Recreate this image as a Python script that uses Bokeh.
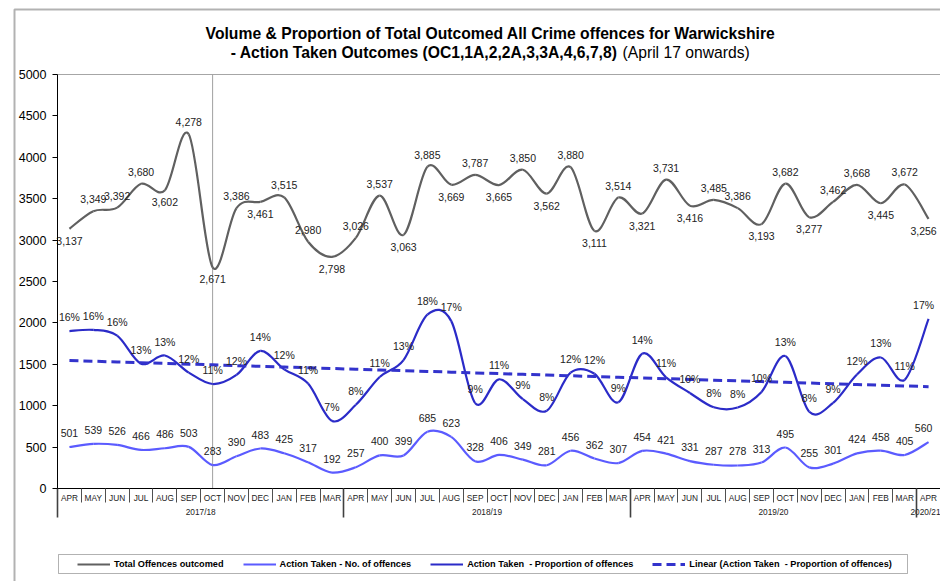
import numpy as np
from bokeh.plotting import figure
from bokeh.models import (Range1d, LinearAxis, FixedTicker, Label, BoxAnnotation,
                          Legend, LegendItem, ColumnDataSource, CustomJSTickFormatter)
from bokeh.core.properties import value
from bokeh.embed import file_html
from bokeh.resources import INLINE

# ---------------- data ----------------
months = ["APR", "MAY", "JUN", "JUL", "AUG", "SEP", "OCT", "NOV", "DEC", "JAN", "FEB", "MAR"] * 3 + ["APR"]
fiscal_years = ["2017/18", "2018/19", "2019/20", "2020/21"]
total_offences = [3137, 3349, 3392, 3680, 3602, 4278, 2671, 3386, 3461, 3515, 2980, 2798,
                  3026, 3537, 3063, 3885, 3669, 3787, 3665, 3850, 3562, 3880, 3111, 3514,
                  3321, 3731, 3416, 3485, 3386, 3193, 3682, 3277, 3462, 3668, 3445, 3672,
                  3256]
action_taken = [501, 539, 526, 466, 486, 503, 283, 390, 483, 425, 317, 192,
                257, 400, 399, 685, 623, 328, 406, 349, 281, 456, 362, 307,
                454, 421, 331, 287, 278, 313, 495, 255, 301, 424, 458, 405,
                560]
action_prop = [0.1597, 0.1609, 0.1551, 0.1266, 0.1349, 0.1176, 0.1060, 0.1152, 0.1396, 0.1209, 0.1064, 0.0686,
               0.0849, 0.1131, 0.1303, 0.1763, 0.1698, 0.0866, 0.1108, 0.0906, 0.0789, 0.1175, 0.1164, 0.0874,
               0.1367, 0.1128, 0.0969, 0.0824, 0.0821, 0.0980, 0.1344, 0.0778, 0.0869, 0.1156, 0.1329, 0.1103,
               0.1720]
y_ticks = [0, 500, 1000, 1500, 2000, 2500, 3000, 3500, 4000, 4500, 5000]
marker_month = 6  # October 2017 marker line

# label placement for the total series (A = above, B = below)
total_label_pos = ["B", "A", "A", "A", "B", "A", "B", "A", "B", "A", "A", "B",
                   "A", "A", "B", "A", "B", "A", "B", "A", "B", "A", "B", "A",
                   "B", "A", "B", "A", "A", "B", "A", "B", "A", "A", "B", "A",
                   "B"]

FONT = "Liberation Sans"
C_TOTAL = "#606060"
C_NUM = "#5b5bff"
C_PROP = "#2b2bc8"
C_TREND = "#3333cc"

n = len(months)
xc = np.arange(n) + 0.5
last_shift = [0.0] * (n - 1) + [-5.0]

# ---------------- layout (pixel geometry of the canvas) ----------------
W, H = 940, 581
PLOT_L, PLOT_T, PLOT_B = 57, 74, 488
CAT_W = (W - PLOT_L) / n
Y_MAX = y_ticks[-1]
PCT_MAX = 0.42
Y_SC = (PLOT_B - PLOT_T) / Y_MAX


def px2x(px):
    return (px - PLOT_L) / CAT_W


def py2y(py):
    return (PLOT_B - py) / Y_SC


p = figure(width=W, height=H, x_range=Range1d(px2x(0), px2x(W)), y_range=Range1d(py2y(H), py2y(0)),
           output_backend="svg", toolbar_location=None,
           min_border_left=0, min_border_right=0, min_border_top=0, min_border_bottom=0)
p.title.visible = False
p.extra_y_ranges = {"pct": Range1d(py2y(H) / Y_MAX * PCT_MAX, py2y(0) / Y_MAX * PCT_MAX)}
p.xgrid.visible = False
p.ygrid.visible = False
p.outline_line_color = None
p.background_fill_color = "white"
p.border_fill_color = "white"

# y axis
ya = p.yaxis[0]
ya.fixed_location = 0
ya.bounds = (0, Y_MAX)
ya.ticker = FixedTicker(ticks=y_ticks)
ya.major_label_text_font = FONT
ya.major_label_text_font_size = "12.5px"
ya.major_label_text_color = "black"
ya.axis_line_color = "black"
ya.major_tick_out = 5
ya.major_tick_in = 0
ya.major_tick_line_color = "black"
ya.minor_tick_line_color = None
ya.major_label_standoff = 6

# x axis 1: month names
xa = p.xaxis[0]
xa.fixed_location = 0
xa.bounds = (0, n)
xa.ticker = FixedTicker(ticks=list(xc))
xa.formatter = CustomJSTickFormatter(args=dict(labels=months), code="return labels[Math.floor(tick)] || '';")
xa.major_tick_out = 0
xa.major_tick_in = 0
xa.minor_tick_out = 0
xa.minor_tick_in = 0
xa.axis_line_color = "black"
xa.major_label_text_font = FONT
xa.major_label_text_font_size = "8.3px"
xa.major_label_text_color = "#222222"
xa.major_label_standoff = 4

# x axis 2: fiscal years, with month separators reaching up to the axis line
year_pos = [6, 18, 30, 36.5]
xa2 = LinearAxis(ticker=FixedTicker(ticks=year_pos, minor_ticks=list(range(n + 1))),
                 formatter=CustomJSTickFormatter(args=dict(labels=fiscal_years),
                                                 code="return labels[Math.floor(tick / 12)] || '';"))
xa2.fixed_location = py2y(502)
xa2.axis_line_color = None
xa2.major_tick_out = 0
xa2.major_tick_in = 0
xa2.minor_tick_in = 14
xa2.minor_tick_out = 0
xa2.minor_tick_line_color = "#505050"
xa2.major_label_text_font = FONT
xa2.major_label_text_font_size = "8.3px"
xa2.major_label_text_color = "#222222"
xa2.major_label_standoff = 4
p.add_layout(xa2, "below")

# x axis 3: long fiscal-year boundary lines
xa3 = LinearAxis(ticker=FixedTicker(ticks=[], minor_ticks=[0, 12, 24, 36]),
                 formatter=CustomJSTickFormatter(code="return '';"))
xa3.fixed_location = py2y(517)
xa3.axis_line_color = None
xa3.major_tick_out = 0
xa3.major_tick_in = 0
xa3.minor_tick_in = 29
xa3.minor_tick_out = 0
xa3.minor_tick_line_color = "#404040"
xa3.minor_tick_line_width = 1.6
p.add_layout(xa3, "below")

# top edge of the plot area and October marker line
p.segment(x0=[0], y0=[Y_MAX], x1=[n], y1=[Y_MAX], line_color="#a6a6a6", line_width=1)
p.segment(x0=[marker_month + 0.5], y0=[0], x1=[marker_month + 0.5], y1=[Y_MAX], line_color="#a0a0a0", line_width=1)


def bez(xs, ys):
    X = np.asarray(xs, float)
    Y = np.asarray(ys, float)
    Xm = np.concatenate([[X[0]], X[:-1]]); Xp = np.concatenate([X[1:], [X[-1]]])
    Ym = np.concatenate([[Y[0]], Y[:-1]]); Yp = np.concatenate([Y[1:], [Y[-1]]])
    TX = (Xp - Xm) / 6.0
    TY = (Yp - Ym) / 6.0
    return dict(x0=X[:-1], y0=Y[:-1], x1=X[1:], y1=Y[1:],
                cx0=X[:-1] + TX[:-1], cy0=Y[:-1] + TY[:-1],
                cx1=X[1:] - TX[1:], cy1=Y[1:] - TY[1:])


bz = dict(x0="x0", y0="y0", x1="x1", y1="y1", cx0="cx0", cy0="cy0", cx1="cx1", cy1="cy1")
r_total = p.bezier(source=ColumnDataSource(bez(xc, total_offences)), line_color=C_TOTAL, line_width=2.2, **bz)
r_num = p.bezier(source=ColumnDataSource(bez(xc, action_taken)), line_color=C_NUM, line_width=2.2, **bz)
r_prop = p.bezier(source=ColumnDataSource(bez(xc, action_prop)), line_color=C_PROP, line_width=2.2,
                  y_range_name="pct", **bz)

# linear trend of the proportion
coef = np.polyfit(np.arange(n), np.asarray(action_prop), 1)
trend = np.polyval(coef, np.arange(n))
r_trend = p.line(xc, trend, y_range_name="pct", line_color=C_TREND, line_width=3, line_dash="9 5")

# data labels
lbl_kw = dict(text_font=value(FONT), text_font_size="10.5px", text_color="#222222",
              text_align="center", text_baseline="middle")
p.text(x=xc, y=total_offences, text=[f"{v:,}" for v in total_offences], x_offset=last_shift,
       y_offset=[-12 if s == "A" else 12 for s in total_label_pos], **lbl_kw)
p.text(x=xc, y=action_taken, text=[f"{v}" for v in action_taken], x_offset=last_shift,
       y_offset=-14, **lbl_kw)
p.text(x=xc, y=action_prop, text=[f"{round(v * 100):d}%" for v in action_prop], x_offset=last_shift,
       y_offset=-14, y_range_name="pct", **lbl_kw)

# legend box and outer chart frame
p.add_layout(BoxAnnotation(left=px2x(58), right=px2x(907), top=py2y(554), bottom=py2y(573),
                           fill_alpha=0, line_color="black", line_width=1))
p.add_layout(BoxAnnotation(left=px2x(14), right=px2x(1000), top=py2y(9), bottom=py2y(800),
                           fill_alpha=0, line_color="black", line_width=2))

# title
title_kw = dict(text_baseline="middle", text_font=FONT, text_font_size="15.7px", text_color="black")
p.add_layout(Label(x=px2x(490), y=py2y(33),
                   text="Volume & Proportion of Total Outcomed All Crime offences for Warwickshire",
                   text_align="center", text_font_style="bold", **title_kw))
p.add_layout(Label(x=px2x(617), y=py2y(52),
                   text="- Action Taken Outcomes (OC1,1A,2,2A,3,3A,4,6,7,8)",
                   text_align="right", text_font_style="bold", **title_kw))
p.add_layout(Label(x=px2x(622), y=py2y(52), text="(April 17 onwards)",
                   text_align="left", **title_kw))

# legend (added last)
legend = Legend(items=[LegendItem(label="Total Offences outcomed", renderers=[r_total]),
                       LegendItem(label="Action Taken - No. of offences", renderers=[r_num]),
                       LegendItem(label="Action Taken  - Proportion of offences", renderers=[r_prop]),
                       LegendItem(label="Linear (Action Taken  - Proportion of offences)", renderers=[r_trend])],
                orientation="horizontal", location=(77, H - 568.5), margin=0, padding=0,
                border_line_color=None, background_fill_alpha=0,
                glyph_width=33, glyph_height=10, label_height=10, label_standoff=4, spacing=19,
                label_text_font=FONT, label_text_font_size="9.2px", label_text_font_style="bold",
                label_text_color="black")
p.add_layout(legend, "center")

open("out.html", "w").write(file_html(p, INLINE))
